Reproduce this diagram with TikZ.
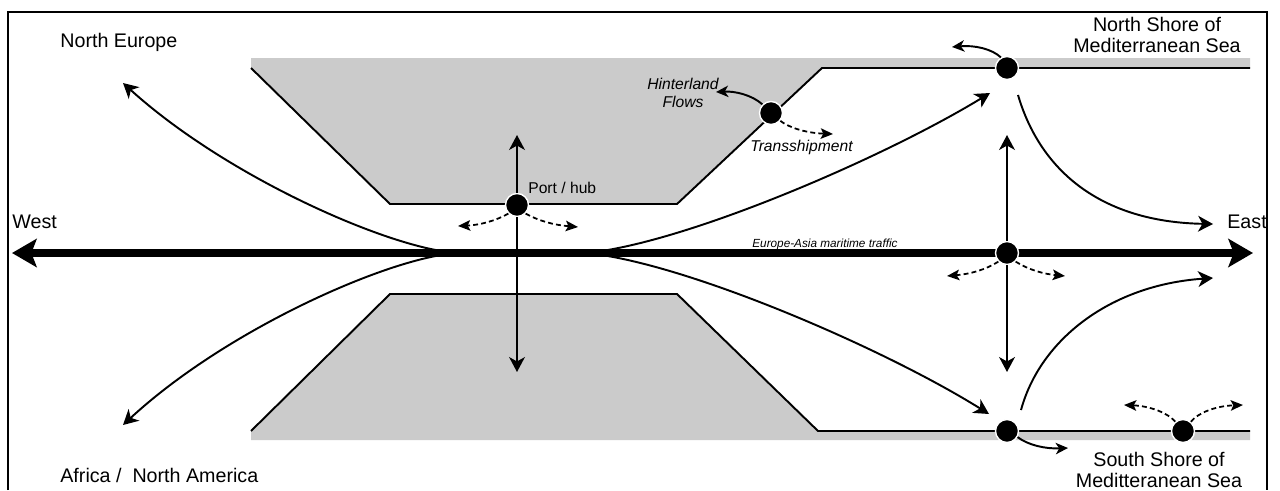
\documentclass[tikz,border=0pt]{standalone}
\usepackage{fontspec}
\setmainfont{Liberation Sans}
\usetikzlibrary{arrows.meta}
\definecolor{landgray}{RGB}{203,203,203}

\begin{document}
\begin{tikzpicture}[x=0.02cm, y=-0.02cm,
	coast/.style={line width=1.1pt},
	flow/.style={line width=1.1pt, -{Stealth[length=8.5pt, width=9pt, inset=2.5pt]}},
	shortflow/.style={line width=1.1pt, -{Stealth[length=7pt, width=6.5pt, inset=2pt]}},
	dashflow/.style={line width=1pt, dash pattern=on 2.8pt off 1.8pt, -{Stealth[length=7pt, width=6pt, inset=1.5pt]}},
	mainflow/.style={line width=4.3pt, {Stealth[length=14pt, width=16pt, inset=3pt]}-{Stealth[length=14pt, width=16pt, inset=3pt]}},
	port/.style={circle, fill=black, draw=white, line width=0.8pt, minimum size=0.46cm, inner sep=0pt},
	areaname/.style={font=\fontsize{11.2}{12}\selectfont, inner sep=0pt},
	note/.style={font=\fontsize{8.9}{10.2}\selectfont\itshape, inner sep=0pt},
	hubname/.style={font=\fontsize{8.9}{10.2}\selectfont, inner sep=0pt},
	traffic/.style={font=\fontsize{6.7}{8}\selectfont\itshape, inner sep=0pt}]
	\useasboundingbox (0,0) rectangle (1280,490);

	% frame
	\draw[line width=0.7pt] (8,490) -- (8,12) -- (1267,12) -- (1267,490);

	% land
	\fill[landgray] (251,58) -- (1250,58) -- (1250,68) -- (822,68) -- (677,204) -- (390,204) -- (251,68) -- cycle;
	\fill[landgray] (251,431) -- (390,294) -- (677,294) -- (818,431) -- (1250,431) -- (1250,440) -- (251,440) -- cycle;
	\draw[coast] (251,68) -- (390,204) -- (677,204) -- (822,68) -- (1250,68);
	\draw[coast] (251,431) -- (390,294) -- (677,294) -- (818,431) -- (1250,431);

	% maritime traffic
	\coordinate (westtip) at (12,253);
	\coordinate (easttip) at (1253,253);
	\draw[mainflow] (westtip) -- (easttip);

	% routes off the main line
	\coordinate (wjoin) at (462,253);
	\coordinate (ejoin) at (585,253);
	\coordinate (neur) at (123,83);
	\coordinate (afr) at (123,425);
	\coordinate (ton) at (990,93);
	\coordinate (tos) at (989,414);
	\draw[flow] (wjoin) .. controls (400,253) and (230,180) .. (neur);
	\draw[flow] (wjoin) .. controls (400,253) and (230,326) .. (afr);
	\draw[flow] (ejoin) .. controls (680,245) and (880,160) .. (ton);
	\draw[flow] (ejoin) .. controls (680,261) and (880,346) .. (tos);

	\coordinate (nleave) at (1018,95);
	\coordinate (sleave) at (1021,410);
	\coordinate (eastup) at (1213,224);
	\coordinate (eastdn) at (1213,278);
	\draw[flow] (nleave) .. controls (1040,170) and (1100,222) .. (eastup);
	\draw[flow] (sleave) .. controls (1040,340) and (1110,285) .. (eastdn);

	% ports
	\node[port] (hub) at (517,205) {};
	\node[port] (hint) at (771,113) {};
	\node[port] (nshore) at (1007,68) {};
	\node[port] (mid) at (1007,253) {};
	\node[port] (sshore) at (1007,431) {};
	\node[port] (sport) at (1183,431) {};

	% flows out of the ports
	\coordinate (hubn) at (517,135);
	\coordinate (hubs) at (517,372);
	\coordinate (midn) at (1007,135);
	\coordinate (mids) at (1007,372);
	\draw[flow] (hub) -- (hubn);
	\draw[flow] (hub) -- (hubs);
	\draw[flow] (mid) -- (midn);
	\draw[flow] (mid) -- (mids);

	\draw[dashflow] (hub.-135) .. controls (495,221) and (480,225) .. (458,226);
	\draw[dashflow] (hub.-45) .. controls (539,221) and (554,225) .. (578,227);
	\draw[dashflow] (mid.-135) .. controls (985,270) and (970,274) .. (947,276);
	\draw[dashflow] (mid.-45) .. controls (1029,270) and (1044,274) .. (1065,276);
	\draw[dashflow] (hint.-40) .. controls (788,127) and (805,133) .. (833,134);
	\draw[dashflow] (sport.130) .. controls (1168,413) and (1150,406) .. (1124,405);
	\draw[dashflow] (sport.50) .. controls (1198,413) and (1215,406) .. (1243,405);

	\draw[shortflow] (hint.135) .. controls (752,95) and (735,91) .. (716,92);
	\draw[shortflow] (nshore.120) .. controls (992,49) and (975,45) .. (952,47);
	\draw[shortflow] (sshore.-30) .. controls (1028,445) and (1045,449) .. (1068,448);

	% names
	\node[areaname, anchor=base west] (west) at (12,228) {West};
	\node[areaname, anchor=base west] (east) at (1227,228) {East};
	\node[areaname, anchor=base west] (neurope) at (60,47) {North Europe};
	\node[areaname, anchor=base west] (africa) at (60,482) {Africa /\ \ North America};
	\node[areaname, align=center, anchor=north] (nshorename) at (1157,16.5) {North Shore of\\Mediterranean Sea};
	\node[areaname, align=center, anchor=north] (sshorename) at (1159,452) {South Shore of\\Meditteranean Sea};
	\node[note, align=center, anchor=north] (hintname) at (683,78) {Hinterland\\Flows};
	\node[note, anchor=base west] (tsname) at (750,151.5) {Transshipment};
	\node[hubname, anchor=base west] (hublabel) at (528,193.5) {Port / hub};
	\node[traffic, anchor=base west] (trafficname) at (752,247.5) {Europe-Asia maritime traffic};
\end{tikzpicture}
\end{document}
